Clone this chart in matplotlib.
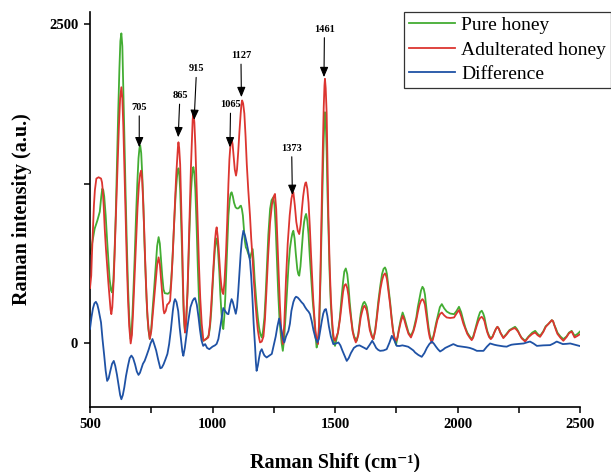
import matplotlib
matplotlib.use("Agg")
import matplotlib.pyplot as plt
from matplotlib.ticker import MultipleLocator

# ---- data ----
pure_x = [500, 505, 512, 519, 530, 540, 546, 550, 554, 558, 564, 570, 580, 586, 590, 595, 600, 605, 610, 615,
          620, 624, 628, 632, 636, 640, 645, 650, 655, 660, 666, 670, 675, 682, 688, 693, 698, 702, 705, 709,
          713, 718, 722, 728, 733, 738, 744, 750, 755, 762, 768, 774, 780, 785, 790, 795, 800, 805, 810, 818,
          827, 831, 835, 840, 845, 850, 855, 858, 861, 864, 868, 872, 876, 879, 882, 885, 888, 892, 898, 903,
          908, 912, 916, 919, 922, 926, 930, 935, 940, 945, 950, 956, 963, 975, 985, 990, 995, 1000, 1005, 1010,
          1015, 1018, 1022, 1028, 1032, 1036, 1040, 1044, 1048, 1052, 1055, 1060, 1065, 1070, 1074, 1078, 1083, 1088, 1094, 1099,
          1104, 1108, 1112, 1116, 1120, 1124, 1128, 1132, 1136, 1140, 1146, 1153, 1158, 1164, 1168, 1172, 1176, 1180, 1185, 1190,
          1195, 1201, 1206, 1212, 1217, 1222, 1228, 1235, 1241, 1248, 1253, 1258, 1263, 1268, 1273, 1278, 1282, 1287, 1292, 1298,
          1304, 1310, 1316, 1322, 1326, 1330, 1335, 1340, 1346, 1350, 1354, 1359, 1365, 1370, 1374, 1378, 1382, 1387, 1392, 1397,
          1403, 1409, 1415, 1420, 1425, 1430, 1435, 1438, 1442, 1446, 1450, 1454, 1457, 1459, 1462, 1466, 1469, 1473, 1478, 1483,
          1488, 1492, 1496, 1500, 1512, 1520, 1527, 1533, 1538, 1544, 1550, 1555, 1560, 1566, 1572, 1578, 1589, 1595, 1600, 1605,
          1610, 1615, 1620, 1625, 1630, 1636, 1642, 1650, 1657, 1664, 1670, 1677, 1685, 1692, 1698, 1704, 1708, 1712, 1718, 1725,
          1731, 1737, 1743, 1749, 1755, 1760, 1768, 1776, 1783, 1790, 1800, 1810, 1820, 1826, 1832, 1838, 1845, 1851, 1857, 1862,
          1867, 1872, 1877, 1882, 1887, 1895, 1900, 1905, 1912, 1918, 1928, 1936, 1946, 1956, 1970, 1986, 1996, 2006, 2015, 2024,
          2032, 2040, 2050, 2058, 2064, 2070, 2078, 2085, 2092, 2099, 2105, 2110, 2116, 2122, 2129, 2136, 2143, 2150, 2157, 2163,
          2169, 2175, 2187, 2200, 2212, 2225, 2235, 2242, 2248, 2255, 2262, 2276, 2290, 2305, 2317, 2327, 2337, 2350, 2360, 2372,
          2385, 2390, 2395, 2402, 2408, 2420, 2432, 2445, 2455, 2466, 2478, 2490, 2500]
pure_y = [700, 740, 820, 896, 960, 1030, 1150, 1210, 1200, 1150, 1000, 800, 500, 410, 396, 480, 700, 1000, 1400, 1800,
          2150, 2370, 2430, 2330, 2000, 1650, 1200, 800, 450, 200, 30, 80, 300, 650, 1000, 1250, 1450, 1530, 1550, 1490,
          1330, 1080, 800, 480, 250, 110, 30, 110, 250, 430, 600, 760, 830, 780, 650, 520, 420, 390, 388, 385,
          400, 480, 600, 800, 1000, 1180, 1300, 1350, 1370, 1340, 1200, 960, 700, 450, 250, 140, 81, 150, 400, 700,
          1000, 1180, 1300, 1360, 1380, 1330, 1200, 920, 600, 330, 150, 50, 16, 30, 60, 130, 250, 420, 600, 740,
          810, 820, 740, 550, 380, 250, 150, 108, 200, 350, 500, 750, 1000, 1120, 1170, 1182, 1150, 1100, 1065, 1056,
          1055, 1060, 1072, 1077, 1050, 1000, 900, 800, 750, 736, 700, 663, 700, 736, 640, 500, 400, 300, 200, 120,
          70, 42, 90, 200, 380, 600, 850, 1051, 1120, 1142, 1080, 900, 650, 400, 200, 80, 0, -63, 20, 200,
          400, 600, 740, 820, 860, 880, 820, 700, 580, 540, 527, 600, 750, 880, 950, 990, 1012, 960, 850, 680,
          500, 330, 200, 60, -37, 0, 100, 300, 600, 950, 1300, 1600, 1760, 1811, 1750, 1500, 1200, 900, 550, 300,
          150, 50, 0, -24, 80, 200, 360, 480, 560, 584, 540, 450, 320, 200, 100, 50, 16, 70, 150, 230,
          280, 310, 322, 305, 280, 200, 120, 60, 29, 100, 200, 330, 450, 540, 580, 592, 575, 540, 440, 320,
          200, 100, 30, -16, 40, 100, 180, 238, 200, 150, 80, 55, 100, 150, 200, 280, 350, 410, 440, 425,
          380, 290, 200, 120, 60, 16, 40, 80, 150, 200, 280, 304, 270, 246, 230, 225, 250, 283, 240, 173,
          120, 80, 50, 29, 50, 90, 150, 200, 240, 252, 230, 200, 140, 90, 55, 37, 50, 80, 110, 126,
          110, 80, 42, 70, 100, 115, 126, 110, 90, 60, 40, 16, 50, 80, 94, 70, 55, 90, 130, 150,
          178, 170, 140, 110, 80, 50, 29, 50, 80, 94, 55, 70, 89]

adult_x = [500, 505, 508, 512, 516, 520, 526, 535, 545, 549, 552, 556, 560, 565, 570, 575, 580, 584, 587, 591,
           597, 602, 608, 613, 618, 623, 628, 632, 636, 640, 645, 650, 655, 660, 666, 671, 676, 682, 688, 694,
           700, 705, 709, 713, 716, 721, 726, 731, 735, 740, 744, 750, 755, 762, 768, 774, 780, 785, 790, 796,
           800, 803, 809, 815, 821, 827, 832, 838, 843, 848, 852, 856, 859, 861, 864, 868, 872, 876, 879, 882,
           885, 888, 892, 898, 903, 908, 912, 916, 919, 922, 926, 930, 935, 940, 945, 950, 956, 963, 973, 983,
           990, 995, 1000, 1005, 1010, 1014, 1017, 1021, 1025, 1028, 1032, 1036, 1040, 1044, 1049, 1055, 1060, 1065, 1069, 1072,
           1075, 1078, 1082, 1087, 1091, 1096, 1100, 1105, 1110, 1115, 1118, 1121, 1125, 1130, 1135, 1140, 1146, 1153, 1158, 1164,
           1169, 1174, 1180, 1185, 1190, 1194, 1201, 1208, 1214, 1220, 1227, 1235, 1243, 1250, 1255, 1260, 1265, 1270, 1275, 1280,
           1287, 1293, 1300, 1307, 1315, 1322, 1327, 1330, 1336, 1342, 1348, 1354, 1360, 1365, 1370, 1375, 1379, 1382, 1387, 1392,
           1397, 1402, 1407, 1411, 1416, 1420, 1425, 1430, 1435, 1440, 1445, 1450, 1454, 1457, 1459, 1462, 1466, 1469, 1473, 1478,
           1483, 1488, 1492, 1496, 1500, 1512, 1520, 1527, 1533, 1538, 1544, 1550, 1555, 1560, 1566, 1572, 1578, 1585, 1595, 1600,
           1605, 1610, 1615, 1620, 1625, 1630, 1636, 1642, 1650, 1656, 1664, 1670, 1677, 1685, 1692, 1698, 1704, 1708, 1712, 1718,
           1725, 1731, 1737, 1743, 1749, 1755, 1760, 1768, 1776, 1783, 1790, 1800, 1810, 1820, 1826, 1832, 1838, 1845, 1851, 1857,
           1862, 1867, 1872, 1877, 1882, 1887, 1895, 1900, 1905, 1912, 1918, 1928, 1936, 1946, 1956, 1970, 1986, 1996, 2006, 2015,
           2024, 2032, 2040, 2050, 2058, 2064, 2070, 2078, 2085, 2092, 2099, 2105, 2110, 2116, 2122, 2129, 2136, 2143, 2150, 2157,
           2163, 2169, 2175, 2187, 2200, 2212, 2225, 2235, 2242, 2248, 2255, 2262, 2276, 2290, 2305, 2317, 2327, 2337, 2350, 2360,
           2372, 2385, 2390, 2395, 2402, 2408, 2420, 2432, 2445, 2455, 2466, 2478, 2490, 2500]
adult_y = [430, 527, 700, 900, 1080, 1200, 1290, 1300, 1290, 1260, 1200, 1070, 900, 740, 600, 470, 350, 260, 225, 280,
           500, 780, 1100, 1420, 1700, 1920, 2007, 1920, 1700, 1400, 1000, 650, 350, 130, -5, 60, 250, 520, 800, 1060,
           1250, 1330, 1352, 1280, 1150, 900, 600, 350, 200, 90, 31, 90, 200, 350, 480, 610, 671, 620, 500, 350,
           260, 231, 250, 300, 310, 330, 480, 700, 930, 1150, 1320, 1450, 1540, 1575, 1530, 1400, 1100, 800, 520, 300,
           160, 81, 160, 400, 750, 1100, 1380, 1600, 1750, 1811, 1730, 1550, 1230, 900, 600, 350, 150, 16, 30, 42,
           150, 300, 470, 650, 800, 880, 907, 840, 740, 650, 530, 450, 400, 383, 480, 700, 950, 1250, 1440, 1520,
           1580, 1601, 1560, 1450, 1360, 1313, 1360, 1500, 1660, 1800, 1870, 1903, 1880, 1800, 1620, 1400, 1200, 998, 820, 650,
           480, 343, 200, 100, 40, 3, 10, 50, 180, 400, 680, 946, 1090, 1150, 1169, 1050, 800, 550, 300, 120,
           -10, 150, 500, 780, 1000, 1130, 1175, 1182, 1080, 950, 880, 854, 930, 1050, 1150, 1220, 1255, 1260, 1210, 1100,
           920, 700, 500, 343, 200, 100, 30, -10, 150, 500, 1000, 1500, 1850, 2020, 2073, 2000, 1800, 1450, 998, 620,
           350, 180, 80, 30, 16, 80, 180, 300, 400, 450, 461, 430, 370, 270, 180, 90, 40, 3, 60, 130,
           200, 240, 275, 291, 275, 250, 180, 100, 50, 29, 90, 180, 300, 420, 490, 530, 545, 530, 500, 410,
           300, 190, 90, 40, 16, 40, 90, 160, 212, 180, 130, 70, 42, 90, 130, 180, 240, 300, 330, 343,
           330, 300, 230, 160, 90, 40, 0, 30, 70, 130, 180, 225, 238, 215, 199, 195, 199, 230, 257, 210,
           150, 110, 70, 40, 21, 40, 80, 130, 170, 195, 204, 190, 170, 120, 80, 45, 29, 45, 80, 110,
           126, 110, 80, 37, 65, 95, 110, 115, 100, 85, 60, 35, 10, 45, 70, 81, 60, 47, 85, 125,
           150, 178, 170, 140, 100, 70, 40, 16, 45, 75, 89, 42, 55, 68]

diff_x = [500, 506, 512, 518, 524, 530, 535, 540, 545, 551, 558, 564, 570, 576, 583, 590, 597, 603, 610, 618,
          623, 628, 634, 640, 647, 655, 662, 669, 676, 684, 691, 698, 704, 710, 716, 723, 731, 740, 747, 755,
          762, 770, 778, 787, 793, 800, 808, 816, 823, 830, 838, 843, 847, 853, 860, 866, 873, 877, 881, 887,
          893, 901, 910, 919, 925, 929, 936, 943, 949, 955, 962, 970, 978, 987, 1000, 1010, 1017, 1024, 1030, 1037,
          1044, 1050, 1055, 1060, 1065, 1072, 1078, 1083, 1088, 1095, 1100, 1105, 1110, 1115, 1120, 1126, 1133, 1140, 1146, 1153,
          1158, 1163, 1168, 1174, 1177, 1180, 1185, 1190, 1195, 1201, 1207, 1212, 1221, 1232, 1242, 1250, 1258, 1265, 1272, 1278,
          1283, 1288, 1293, 1300, 1310, 1316, 1322, 1330, 1336, 1341, 1348, 1355, 1363, 1371, 1378, 1385, 1392, 1398, 1405, 1412,
          1420, 1428, 1434, 1440, 1446, 1452, 1458, 1463, 1469, 1475, 1483, 1493, 1504, 1514, 1522, 1530, 1539, 1548, 1556, 1565,
          1577, 1589, 1600, 1610, 1620, 1629, 1640, 1652, 1660, 1668, 1676, 1684, 1698, 1711, 1722, 1732, 1742, 1752, 1763, 1775,
          1787, 1799, 1806, 1813, 1820, 1827, 1840, 1854, 1865, 1875, 1885, 1895, 1903, 1912, 1920, 1929, 1940, 1950, 1966, 1983,
          2000, 2012, 2024, 2037, 2050, 2065, 2079, 2092, 2106, 2120, 2133, 2150, 2162, 2174, 2188, 2201, 2210, 2220, 2231, 2242,
          2256, 2270, 2283, 2296, 2310, 2324, 2337, 2350, 2364, 2378, 2392, 2405, 2418, 2430, 2445, 2460, 2470, 2480, 2497]
diff_y = [110, 200, 270, 310, 322, 300, 260, 210, 160, 30, -100, -220, -299, -280, -220, -165, -142, -180, -250, -350,
          -410, -443, -410, -350, -260, -180, -120, -100, -120, -170, -225, -252, -235, -200, -165, -142, -100, -50, -5, 30,
          -10, -60, -130, -200, -195, -170, -130, -87, -10, 100, 250, 320, 343, 320, 250, 120, 0, -70, -102, -40,
          50, 170, 280, 330, 348, 351, 300, 200, 100, 20, -24, -10, -40, -50, -30, -20, -8, 30, 100, 190,
          273, 255, 240, 228, 225, 300, 343, 320, 280, 228, 280, 400, 550, 700, 810, 880, 840, 780, 720, 645,
          520, 350, 150, -37, -150, -220, -180, -120, -70, -50, -80, -100, -115, -100, -87, -20, 50, 130, 191, 130,
          80, 30, 3, 50, 94, 150, 250, 320, 350, 362, 355, 340, 320, 304, 280, 260, 245, 225, 170, 100,
          40, 3, 30, 100, 170, 230, 260, 265, 210, 130, 50, -10, -5, 3, -20, -60, -100, -142, -120, -80,
          -40, -24, -20, -30, -40, -50, -20, 16, -10, -40, -55, -63, -60, -50, 0, 55, 20, -24, -25, -20,
          -25, -31, -40, -50, -60, -76, -95, -110, -80, -40, -10, 10, -5, -30, -50, -68, -55, -40, -25, -10,
          -25, -28, -31, -35, -40, -50, -63, -63, -63, -30, -5, -15, -20, -24, -28, -30, -22, -15, -12, -10,
          -8, -5, 3, 10, -5, -24, -22, -20, -19, -18, -5, 10, 0, -10, -8, -5, -10, -15, -24]

series_names = ["Pure honey", "Adulterated honey", "Difference"]

peak_labels = ["705", "865", "915", "1065", "1127", "1373", "1461"]
peak_tip_x = [701, 860, 925, 1071, 1118, 1326, 1455]
peak_tip_y = [1535, 1614, 1750, 1535, 1929, 1161, 2086]
label_x = [701, 867, 935, 1074, 1116, 1323, 1457]
label_y = [1850, 1942, 2152, 1871, 2256, 1529, 2464]

x_ticks = [500, 1000, 1500, 2000, 2500]
y_ticks = [0, 2500]

# ---- styling ----
plt.rcParams["font.family"] = ["Liberation Serif", "DejaVu Serif"]

fig = plt.figure(figsize=(6.11, 4.72), dpi=100)
ax = fig.add_axes([90 / 611, 1 - 406.5 / 472, 490 / 611, (406.5 - 11.7) / 472])

c_pure = "#43ad33"
c_adult = "#dc3530"
c_diff = "#1f52a5"
lw = 1.3
ax.plot(pure_x, pure_y, color=c_pure, lw=lw, label=series_names[0], zorder=2)
ax.plot(adult_x, adult_y, color=c_adult, lw=lw, label=series_names[1], zorder=3)
ax.plot(diff_x, diff_y, color=c_diff, lw=lw, label=series_names[2], zorder=4)

for lab, tx, ty, lx, ly in zip(peak_labels, peak_tip_x, peak_tip_y, label_x, label_y):
    ax.annotate(lab, xy=(tx, ty), xytext=(lx, ly), ha="center", va="center",
                fontsize=7.5, fontweight="bold", color="black",
                arrowprops=dict(arrowstyle="-|>,head_length=0.6,head_width=0.25",
                                color="black", lw=0.8, shrinkA=1, shrinkB=0,
                                mutation_scale=10),
                zorder=6)

ax.set_xlim(500, 2500)
ax.set_ylim(-500, 2600)
ax.set_xticks(x_ticks)
ax.set_yticks(y_ticks)
ax.xaxis.set_minor_locator(MultipleLocator(250))
ax.yaxis.set_minor_locator(MultipleLocator(1250))
ax.tick_params(axis="both", which="both", direction="out", width=1.1, length=4.5, labelsize=10.5, pad=4)
for t in ax.get_xticklabels() + ax.get_yticklabels():
    t.set_fontweight("bold")

for s in ["top", "right"]:
    ax.spines[s].set_visible(False)
for s in ["left", "bottom"]:
    ax.spines[s].set_linewidth(1.2)

ax.set_xlabel("Raman Shift (cm\u207b\u00b9)", fontsize=14.5, fontweight="bold", labelpad=15)
ax.set_ylabel("Raman intensity (a.u.)", fontsize=14.5, fontweight="bold", labelpad=12)

leg = ax.legend(loc="upper right", bbox_to_anchor=(1.063, 1.0), borderaxespad=0,
                fontsize=14, handlelength=2.4, handletextpad=0.3, labelspacing=0.35,
                borderpad=0.25, fancybox=False, framealpha=1, edgecolor="#333333")
leg.get_frame().set_linewidth(0.9)

fig.savefig("out.png", dpi=100)
